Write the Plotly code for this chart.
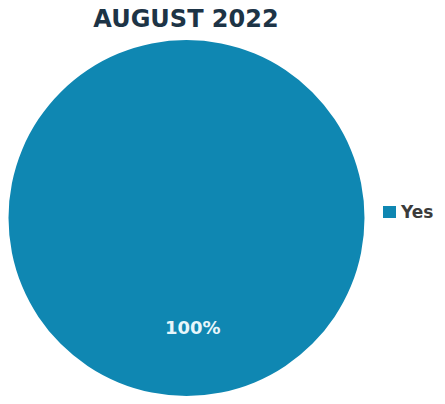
import plotly.graph_objects as go

labels = ["Yes"]
values = [100]
slice_colors = ["#0f87b2"]
title_text = "AUGUST 2022"

total = sum(values)
pct_text = [f"{round(v / total * 100)}%" for v in values]

W, H = 445, 404

fig = go.Figure(
    go.Pie(
        labels=labels,
        values=values,
        marker=dict(colors=slice_colors, line=dict(width=0)),
        textinfo="none",
        sort=False,
        hoverinfo="label+percent",
        showlegend=False,
        domain=dict(x=[8.5 / W, 364.5 / W], y=[8 / H, 364 / H]),
    )
)

# percentage label drawn in the lower part of the disc
fig.add_annotation(
    text=f"<b>{pct_text[0]}</b>",
    x=193 / W, y=1 - 340 / H,
    xref="paper", yref="paper",
    showarrow=False,
    font=dict(family="DejaVu Sans", size=18, color="#e6f6fb"),
)

# legend: colour swatch followed by the category name
fig.add_shape(
    type="rect", xref="paper", yref="paper",
    x0=383 / W, x1=396 / W, y0=1 - 218 / H, y1=1 - 206 / H,
    fillcolor=slice_colors[0], line=dict(width=0),
)
fig.add_annotation(
    text=f"<b>{labels[0]}</b>",
    x=398 / W, xanchor="left",
    y=1 - 212 / H, yanchor="middle",
    xref="paper", yref="paper",
    showarrow=False,
    font=dict(family="DejaVu Sans", size=17, color="#3b3b3b"),
)

fig.update_layout(
    width=W, height=H,
    margin=dict(l=0, r=0, t=0, b=0),
    paper_bgcolor="white",
    plot_bgcolor="white",
    title=dict(
        text=f"<b>{title_text}</b>",
        x=186 / W, xanchor="center",
        y=1 - 19 / H, yanchor="middle",
        font=dict(family="DejaVu Sans", size=24, color="#1d3446"),
    ),
)

fig.write_html("out.html")
